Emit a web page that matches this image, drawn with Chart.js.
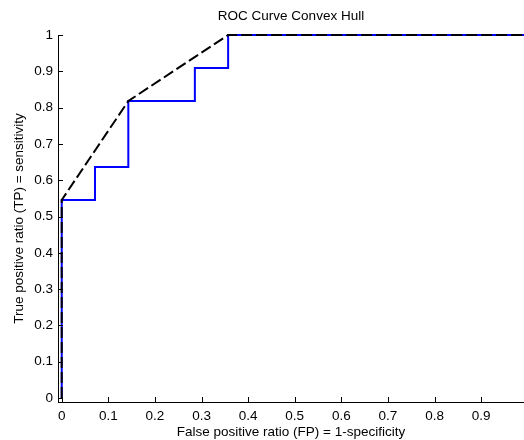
<!DOCTYPE html>
<html>
<head>
<meta charset="utf-8">
<script src="https://cdn.jsdelivr.net/npm/chart.js@4/dist/chart.umd.min.js"></script>
<style>
html,body{margin:0;padding:0;background:#fff;}
#c{display:block;}
</style>
</head>
<body>
<canvas id="c" width="524" height="440"></canvas>
<script>
// ROC curve (false positive ratio, true positive ratio)
const rocFpr = [0, 0, 0.0714, 0.0714, 0.1429, 0.1429, 0.2857, 0.2857, 0.3571, 0.3571, 1];
const rocTpr = [0, 0.5455, 0.5455, 0.6364, 0.6364, 0.8182, 0.8182, 0.9091, 0.9091, 1, 1];
// Convex hull of the ROC curve
const hullFpr = [0, 0, 0.1429, 0.3571, 1];
const hullTpr = [0, 0.5455, 0.8182, 1, 1];
// Tick values and labels
const xTicks = [0, 0.1, 0.2, 0.3, 0.4, 0.5, 0.6, 0.7, 0.8, 0.9];
const xTickLabels = ['0', '0.1', '0.2', '0.3', '0.4', '0.5', '0.6', '0.7', '0.8', '0.9'];
const yTicks = [0, 0.1, 0.2, 0.3, 0.4, 0.5, 0.6, 0.7, 0.8, 0.9, 1];
const yTickLabels = ['0', '0.1', '0.2', '0.3', '0.4', '0.5', '0.6', '0.7', '0.8', '0.9', '1'];

const FONT = '"Liberation Sans", Arial, Helvetica, sans-serif';
const FS = 13.5;

const toPts = (xs, ys) => xs.map((x, i) => ({x: x, y: ys[i]}));

const inwardTicks = {
  id: 'inwardTicks',
  afterDatasetsDraw(chart) {
    const ctx = chart.ctx;
    const xs = chart.scales.x, ys = chart.scales.y;
    const a = chart.chartArea;
    ctx.save();
    ctx.strokeStyle = '#000';
    ctx.lineWidth = 1;
    ctx.beginPath();
    xTicks.forEach(v => {
      const px = Math.round(xs.getPixelForValue(v)) + 0.5;
      ctx.moveTo(px, a.bottom);
      ctx.lineTo(px, a.bottom - 5);
    });
    yTicks.forEach(v => {
      const py = Math.round(ys.getPixelForValue(v)) + 0.5;
      ctx.moveTo(a.left, py);
      ctx.lineTo(a.left + 5, py);
    });
    ctx.stroke();
    ctx.restore();
  }
};

new Chart(document.getElementById('c'), {
  type: 'line',
  data: {
    datasets: [
      {
        label: 'Convex hull',
        data: toPts(hullFpr, hullTpr),
        borderColor: '#000000',
        borderWidth: 2,
        borderDash: [11, 4],
        pointRadius: 0,
        fill: false,
        tension: 0,
        clip: false
      },
      {
        label: 'ROC',
        data: toPts(rocFpr, rocTpr),
        borderColor: '#0000ff',
        borderWidth: 2,
        pointRadius: 0,
        fill: false,
        tension: 0,
        clip: false
      }
    ]
  },
  options: {
    responsive: false,
    animation: false,
    events: [],
    layout: {padding: {left: 0, right: 0, top: 0, bottom: 0}},
    plugins: {
      legend: {display: false},
      tooltip: {enabled: false},
      title: {display: false}
    },
    scales: {
      x: {
        type: 'linear',
        min: -0.008,
        max: 0.992,
        afterFit(s) { s.height = 38; },
        afterBuildTicks(s) { s.ticks = xTicks.map(v => ({value: v})); },
        ticks: {
          color: '#000',
          font: {family: FONT, size: FS},
          padding: 6,
          maxRotation: 0,
          autoSkip: false,
          callback: (v) => { const i = xTicks.indexOf(v); return i >= 0 ? xTickLabels[i] : ''; }
        },
        grid: {display: true, drawOnChartArea: false, drawTicks: false, tickLength: 0},
        border: {display: true, color: '#000', width: 1},
        title: {
          display: true,
          text: 'False positive ratio (FP) = 1-specificity',
          color: '#000',
          font: {family: FONT, size: FS},
          padding: {top: 0, bottom: 0}
        }
      },
      xTitle: {
        type: 'linear',
        position: 'top',
        min: -0.008,
        max: 0.992,
        afterFit(s) { s.height = 35; },
        ticks: {display: false},
        grid: {display: false},
        border: {display: false},
        title: {
          display: true,
          text: 'ROC Curve Convex Hull',
          color: '#000',
          font: {family: FONT, size: FS},
          padding: {top: 8, bottom: 0}
        }
      },
      y: {
        type: 'linear',
        min: -0.011,
        max: 1,
        afterFit(s) { s.width = 58; },
        afterBuildTicks(s) { s.ticks = yTicks.map(v => ({value: v})); },
        ticks: {
          color: '#000',
          font: {family: FONT, size: FS},
          padding: 5,
          autoSkip: false,
          callback: (v) => { const i = yTicks.indexOf(v); return i >= 0 ? yTickLabels[i] : ''; }
        },
        grid: {display: true, drawOnChartArea: false, drawTicks: false, tickLength: 0},
        border: {display: true, color: '#000', width: 1},
        title: {
          display: true,
          text: 'True positive ratio (TP) = sensitivity',
          color: '#000',
          font: {family: FONT, size: FS},
          padding: {top: 11, bottom: 0}
        }
      }
    }
  },
  plugins: [inwardTicks]
});
</script>
</body>
</html>
